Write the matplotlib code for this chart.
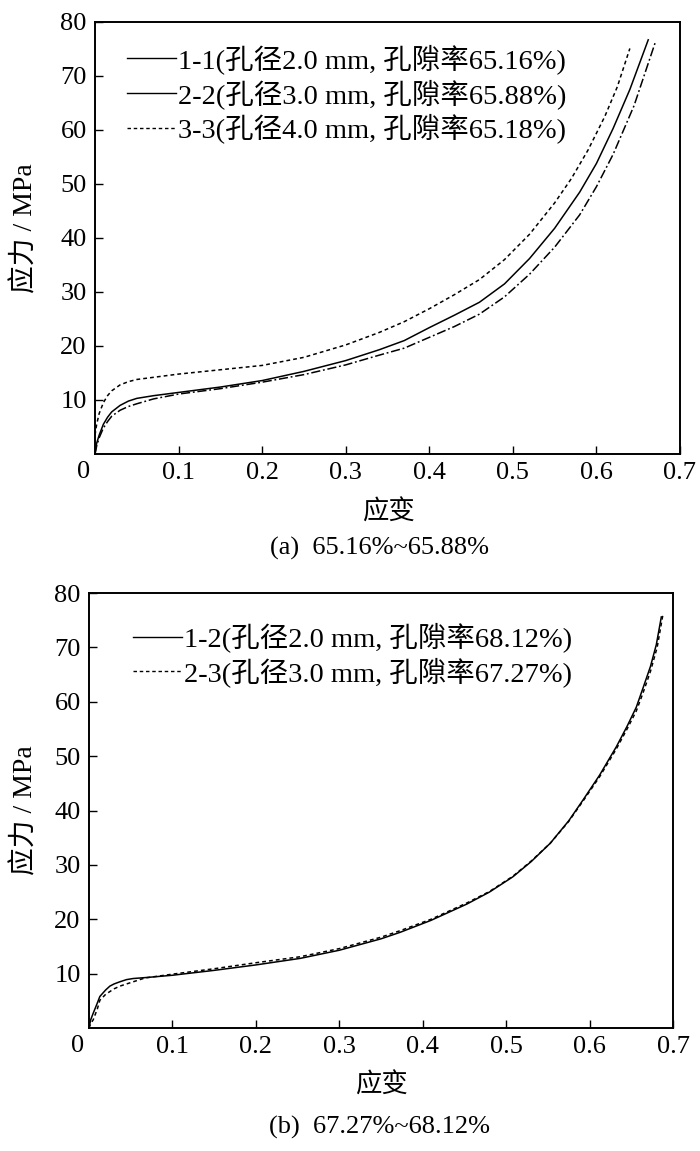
import matplotlib
matplotlib.use("Agg")
import matplotlib.pyplot as plt
from matplotlib.lines import Line2D
from matplotlib.transforms import offset_copy

plt.rcParams['font.family'] = ['Liberation Serif', 'Noto Sans CJK SC']
plt.rcParams['axes.unicode_minus'] = False

# (a) 孔隙率 65.16%~65.88%
strain_11 = [0, 0.002, 0.005, 0.01, 0.015, 0.02, 0.03, 0.04, 0.05, 0.07, 0.1, 0.15, 0.2, 0.25,
             0.3, 0.34, 0.37, 0.4, 0.43, 0.46, 0.49, 0.52, 0.55, 0.58, 0.6, 0.62, 0.64, 0.662]
stress_11 = [0, 2.0, 3.5, 5.5, 6.8, 7.8, 9.0, 9.8, 10.3, 10.8, 11.4, 12.4, 13.6, 15.3,
             17.3, 19.3, 21.0, 23.4, 25.7, 28.1, 31.5, 36.2, 41.8, 48.5, 53.8, 60.3, 67.5, 76.7]

strain_22 = [0, 0.002, 0.005, 0.01, 0.015, 0.02, 0.03, 0.04, 0.05, 0.07, 0.1, 0.15, 0.2, 0.25,
             0.3, 0.34, 0.37, 0.4, 0.43, 0.46, 0.49, 0.52, 0.55, 0.58, 0.6, 0.62, 0.645, 0.671]
stress_22 = [0, 1.5, 3.0, 4.8, 6.0, 7.0, 8.1, 8.8, 9.3, 10.2, 11.1, 12.1, 13.3, 14.7,
             16.5, 18.3, 19.6, 21.6, 23.6, 25.9, 29.1, 33.3, 38.3, 44.3, 49.5, 55.5, 64.5, 76.5]

strain_33 = [0, 0.002, 0.005, 0.01, 0.015, 0.02, 0.03, 0.04, 0.05, 0.07, 0.1, 0.15, 0.2, 0.25,
             0.3, 0.34, 0.37, 0.4, 0.43, 0.46, 0.49, 0.52, 0.55, 0.57, 0.59, 0.61, 0.625, 0.64]
stress_33 = [3.5, 5.5, 7.5, 9.5, 10.8, 11.7, 12.8, 13.4, 13.8, 14.2, 14.8, 15.6, 16.4, 17.9,
             20.2, 22.5, 24.5, 26.9, 29.5, 32.3, 36.0, 40.7, 46.5, 51.0, 56.3, 62.5, 68.0, 75.1]

# (b) 孔隙率 67.27%~68.12%
strain_12 = [0, 0.002, 0.005, 0.01, 0.013, 0.02, 0.025, 0.03, 0.037, 0.045, 0.053, 0.07, 0.1,
             0.15, 0.2, 0.253, 0.3, 0.35, 0.373, 0.41, 0.453, 0.48, 0.508, 0.53, 0.553, 0.575,
             0.592, 0.612, 0.632, 0.645, 0.656, 0.664, 0.673, 0.68, 0.686]
stress_12 = [0, 1.5, 2.7, 4.6, 5.8, 7.0, 7.7, 8.1, 8.5, 8.9, 9.1, 9.3, 9.7,
             10.6, 11.6, 12.8, 14.3, 16.4, 17.6, 19.8, 22.8, 25.0, 27.8, 30.6, 34.0, 38.1,
             41.9, 46.5, 51.7, 55.5, 59.0, 62.5, 66.5, 70.5, 75.6]

strain_23 = [0, 0.002, 0.005, 0.01, 0.013, 0.02, 0.025, 0.03, 0.037, 0.045, 0.053, 0.067, 0.1,
             0.15, 0.2, 0.253, 0.3, 0.35, 0.373, 0.41, 0.453, 0.48, 0.508, 0.53, 0.553, 0.575,
             0.592, 0.612, 0.632, 0.645, 0.656, 0.664, 0.673, 0.681, 0.688]
stress_23 = [0, 0.8, 1.5, 3.5, 5.1, 6.2, 6.7, 7.2, 7.7, 8.1, 8.5, 9.2, 9.9,
             10.9, 12.0, 13.1, 14.6, 16.7, 17.9, 20.0, 23.0, 25.1, 27.9, 30.7, 34.0, 38.0,
             41.7, 46.2, 51.3, 55.0, 58.3, 61.6, 65.6, 70.0, 76.1]

labels_a = ['1-1(孔径2.0 mm, 孔隙率65.16%)', '2-2(孔径3.0 mm, 孔隙率65.88%)',
            '3-3(孔径4.0 mm, 孔隙率65.18%)']
labels_b = ['1-2(孔径2.0 mm, 孔隙率68.12%)', '2-3(孔径3.0 mm, 孔隙率67.27%)']
caption_a = '(a)  65.16%~65.88%'
caption_b = '(b)  67.27%~68.12%'

xticks = [0.1, 0.2, 0.3, 0.4, 0.5, 0.6, 0.7]
yticks = [10, 20, 30, 40, 50, 60, 70, 80]

fig = plt.figure(figsize=(7, 11.51), dpi=100)
ax1 = fig.add_axes([95 / 700, 1 - 454 / 1151, 585 / 700, 432 / 1151])
ax2 = fig.add_axes([89 / 700, 1 - 1028 / 1151, 584 / 700, 435 / 1151])

lw = 1.1
ax1.plot(strain_11, stress_11, color='black', lw=lw)
ax1.plot(strain_22, stress_22, color='black', lw=lw, linestyle=(0, (6, 1.8, 1.2, 1.8)))
ax1.plot(strain_33, stress_33, color='black', lw=lw, linestyle=(0, (2.5, 2)))

ax2.plot(strain_12, stress_12, color='black', lw=lw)
ax2.plot(strain_23, stress_23, color='black', lw=lw, linestyle=(0, (2.5, 2)))

# 图例中 2-2 的线型在原图里显示为实线
handles_a = [Line2D([], [], color='black', lw=1.0),
             Line2D([], [], color='black', lw=1.0),
             Line2D([], [], color='black', lw=1.0, linestyle=(0, (2.5, 2)))]
handles_b = [Line2D([], [], color='black', lw=1.0),
             Line2D([], [], color='black', lw=1.0, linestyle=(0, (2.5, 2)))]

ax1.legend(handles_a, labels_a, loc='upper left', bbox_to_anchor=(0.055, 0.949),
           frameon=False, fontsize=20.5, handlelength=1.72, handletextpad=0.07,
           labelspacing=0.17, borderpad=0, borderaxespad=0)
ax2.legend(handles_b, labels_b, loc='upper left', bbox_to_anchor=(0.075, 0.932),
           frameon=False, fontsize=20.5, handlelength=1.72, handletextpad=0.07,
           labelspacing=0.17, borderpad=0, borderaxespad=0)

for ax in (ax1, ax2):
    ax.set_xlim(0, 0.7)
    ax.set_ylim(0, 80)
    ax.set_xticks(xticks)
    ax.set_xticklabels([f'{t:.1f}' for t in xticks])
    ax.set_yticks(yticks)
    ax.tick_params(direction='in', length=5.5, width=1.0, labelsize=19, pad=6)
    for s in ax.spines.values():
        s.set_linewidth(1.4)
    tr = offset_copy(ax.transAxes, fig=fig, x=-11, y=-18, units='dots')
    ax.text(0, 0, '0', transform=tr, ha='center', va='center', fontsize=19)

fig.text(25 / 700, 1 - 228 / 1151, '应力 / MPa', rotation=90, ha='center', va='center', fontsize=20)
fig.text(25 / 700, 1 - 810 / 1151, '应力 / MPa', rotation=90, ha='center', va='center', fontsize=20)
fig.text(388 / 700, 1 - 512 / 1151, '应变', ha='center', va='center', fontsize=19)
fig.text(381 / 700, 1 - 1085 / 1151, '应变', ha='center', va='center', fontsize=19)
fig.text(380 / 700, 1 - 548 / 1151, caption_a, ha='center', va='center', fontsize=19)
fig.text(380 / 700, 1 - 1127 / 1151, caption_b, ha='center', va='center', fontsize=19)

fig.savefig('out.png', dpi=100)
